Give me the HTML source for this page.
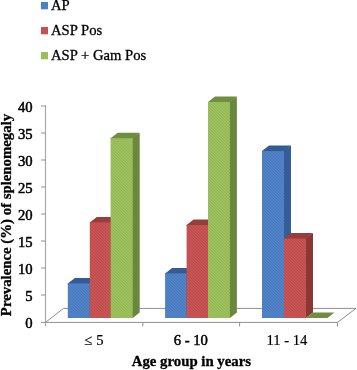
<!DOCTYPE html>
<html><head><meta charset="utf-8"><title>chart</title>
<style>
html,body{margin:0;padding:0;background:#fff;}
body{width:357px;height:370px;overflow:hidden;}
svg{display:block;}
svg text{font-family:"Liberation Serif",serif;font-size:14.67px;fill:#000;stroke:#000;stroke-width:0.5px;}
</style></head><body>
<svg width="357" height="370" viewBox="0 0 357 370">
<defs><pattern id="tx" width="3" height="3" patternUnits="userSpaceOnUse"><path d="M0,0h1v1h-1z M1,1h1v1h-1z M2,2h1v1h-1z" fill="#000" fill-opacity="0.04"/><path d="M1,0h1v1h-1z M2,1h1v1h-1z M0,2h1v1h-1z" fill="#fff" fill-opacity="0.05"/></pattern></defs>
<polygon points="45.5,322.4 337.5,322.4 356,308.4 63.5,308.4" fill="#fff" stroke="#8e8e8e" stroke-width="1"/>
<path d="M45.5,105.5 V326.4" stroke="#a4a4a4" stroke-width="1.1" fill="none"/>
<path d="M41,106 H46 M41,133 H46 M41,160 H46 M41,187 H46 M41,214 H46 M41,241 H46 M41,268 H46 M41,295 H46 M41,322.4 H46 M142.8,322 V326.4 M239.6,322 V326.4 M337.5,322 V326.4" stroke="#929292" stroke-width="1" fill="none"/>
<polygon points="89.0,283.4 96.8,277.9 96.8,312.5 89.8,318.0 89.0,318.0" fill="#355d96"/>
<polygon points="67.8,283.4 74.8,277.9 96.8,277.9 89.8,283.4 89.8,284.2 67.8,284.2" fill="#345b94"/>
<rect x="67.8" y="283.4" width="22.0" height="34.6" fill="#4c7fc5"/>
<rect x="67.8" y="283.4" width="22.0" height="34.6" fill="url(#tx)"/>
<polygon points="109.8,222.4 117.6,216.9 117.6,312.5 110.6,318.0 109.8,318.0" fill="#8a3736"/>
<polygon points="89.8,222.4 96.8,216.9 117.6,216.9 110.6,222.4 110.6,223.2 89.8,223.2" fill="#983d3c"/>
<rect x="89.8" y="222.4" width="20.8" height="95.6" fill="#c5504f"/>
<rect x="89.8" y="222.4" width="20.8" height="95.6" fill="url(#tx)"/>
<polygon points="131.9,138.2 139.7,132.7 139.7,312.5 132.7,318.0 131.9,318.0" fill="#6b863f"/>
<polygon points="110.6,138.2 117.6,132.7 139.7,132.7 132.7,138.2 132.7,139.0 110.6,139.0" fill="#708e40"/>
<rect x="110.6" y="138.2" width="22.1" height="179.8" fill="#9abe58"/>
<rect x="110.6" y="138.2" width="22.1" height="179.8" fill="url(#tx)"/>
<polygon points="185.8,273.4 193.6,267.9 193.6,312.5 186.6,318.0 185.8,318.0" fill="#355d96"/>
<polygon points="165.1,273.4 172.1,267.9 193.6,267.9 186.6,273.4 186.6,274.2 165.1,274.2" fill="#345b94"/>
<rect x="165.1" y="273.4" width="21.5" height="44.6" fill="#4c7fc5"/>
<rect x="165.1" y="273.4" width="21.5" height="44.6" fill="url(#tx)"/>
<polygon points="207.2,225.1 215.0,219.6 215.0,312.5 208.0,318.0 207.2,318.0" fill="#8a3736"/>
<polygon points="186.6,225.1 193.6,219.6 215.0,219.6 208.0,225.1 208.0,225.9 186.6,225.9" fill="#983d3c"/>
<rect x="186.6" y="225.1" width="21.4" height="92.9" fill="#c5504f"/>
<rect x="186.6" y="225.1" width="21.4" height="92.9" fill="url(#tx)"/>
<polygon points="229.1,102.0 236.9,96.5 236.9,312.5 229.9,318.0 229.1,318.0" fill="#6b863f"/>
<polygon points="208.0,102.0 215.0,96.5 236.9,96.5 229.9,102.0 229.9,102.8 208.0,102.8" fill="#708e40"/>
<rect x="208.0" y="102.0" width="21.9" height="216.0" fill="#9abe58"/>
<rect x="208.0" y="102.0" width="21.9" height="216.0" fill="url(#tx)"/>
<polygon points="283.2,151.1 291.0,145.6 291.0,312.5 284.0,318.0 283.2,318.0" fill="#355d96"/>
<polygon points="262.0,151.1 269.0,145.6 291.0,145.6 284.0,151.1 284.0,151.9 262.0,151.9" fill="#345b94"/>
<rect x="262.0" y="151.1" width="22.0" height="166.9" fill="#4c7fc5"/>
<rect x="262.0" y="151.1" width="22.0" height="166.9" fill="url(#tx)"/>
<polygon points="305.2,238.6 313.0,233.1 313.0,312.5 306.0,318.0 305.2,318.0" fill="#8a3736"/>
<polygon points="284.0,238.6 291.0,233.1 313.0,233.1 306.0,238.6 306.0,239.4 284.0,239.4" fill="#983d3c"/>
<rect x="284.0" y="238.6" width="22.0" height="79.4" fill="#c5504f"/>
<rect x="284.0" y="238.6" width="22.0" height="79.4" fill="url(#tx)"/>
<polygon points="327.5,318.0 334.5,312.5 334.5,312.5 327.5,318.0 327.5,318.0" fill="#6b863f"/>
<polygon points="306.0,318.0 313.0,312.5 334.5,312.5 327.5,318.0 327.5,318.0 306.0,318.0" fill="#708e40"/>
<rect x="41" y="2" width="7" height="7.3" fill="#4c7fc5"/>
<text x="51" y="9.7" style="stroke-width:0.3px">AP</text>
<rect x="41" y="27" width="7" height="7.3" fill="#c5504f"/>
<text x="51" y="34.8" style="stroke-width:0.3px">ASP Pos</text>
<rect x="41" y="52" width="7" height="7.3" fill="#9abe58"/>
<text x="51" y="59.9" style="stroke-width:0.3px">ASP + Gam Pos</text>
<text x="32.6" y="112.0" text-anchor="end">40</text>
<text x="32.6" y="138.9" text-anchor="end">35</text>
<text x="32.6" y="165.9" text-anchor="end">30</text>
<text x="32.6" y="192.8" text-anchor="end">25</text>
<text x="32.6" y="219.8" text-anchor="end">20</text>
<text x="32.6" y="246.8" text-anchor="end">15</text>
<text x="32.6" y="273.7" text-anchor="end">10</text>
<text x="32.6" y="300.6" text-anchor="end">5</text>
<text x="32.6" y="327.6" text-anchor="end">0</text>
<text x="93.7" y="345.2" text-anchor="middle" style="stroke-width:0.2px">≤ <tspan dx="0.5">5</tspan></text>
<text x="190.8" y="345.2" text-anchor="middle" style="stroke-width:0.5px">6 - 10</text>
<text x="286.9" y="345.2" text-anchor="middle" style="stroke-width:0.2px">11 - 14</text>
<text x="191.4" y="365.8" text-anchor="middle" font-weight="bold" style="font-size:14.8px;stroke-width:0.3px">Age group in years</text>
<text transform="translate(10.5,215) rotate(-90)" text-anchor="middle" font-weight="bold" style="font-size:14.8px;stroke-width:0.3px">Prevalence (%) of splenomegaly</text>
</svg>
</body></html>
